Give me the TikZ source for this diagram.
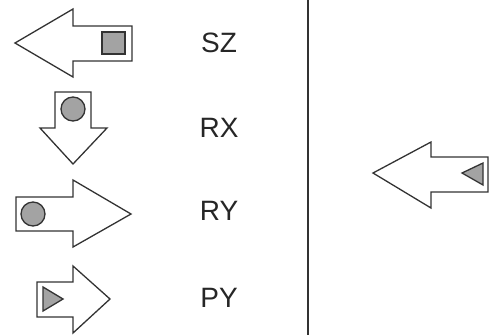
\documentclass[tikz,border=0pt]{standalone}
\usepackage{fontspec}
\setmainfont{Liberation Sans}
\usepackage{tikz}
\usetikzlibrary{positioning}
\definecolor{arrline}{HTML}{333333}
\definecolor{markgray}{HTML}{A3A3A3}

\begin{document}
\begin{tikzpicture}[
  x=1pt, y=-1pt,
  arr/.style={draw=arrline, line width=1.3pt, fill=white, line join=miter},
  sym/.style={draw=arrline, line width=1.3pt, fill=markgray},
  lbl/.style={font=\fontsize{28}{30}\selectfont, text=black!85}
]
  \useasboundingbox (0,0) rectangle (494,335);

  % SZ: arrow pointing left, square
  \draw[arr] (15,43) -- (73,9) -- (73,26) -- (132,26) -- (132,61)
    -- (73,61) -- (73,77) -- cycle;
  \draw[sym] (102,32) rectangle (125,54);
  \node[lbl] (sz) at (219,43) {SZ};

  % RX: arrow pointing down, circle
  \draw[arr] (73,164) -- (40,128) -- (55,128) -- (55,92) -- (91,92)
    -- (91,128) -- (107,128) -- cycle;
  \draw[sym] (73,109) circle (12);
  \node[lbl] (rx) at (219,128) {RX};

  % RY: arrow pointing right, circle
  \draw[arr] (131,214) -- (73,180) -- (73,197) -- (16,197) -- (16,231)
    -- (73,231) -- (73,247) -- cycle;
  \draw[sym] (33,214) circle (12);
  \node[lbl] (ry) at (219,211) {RY};

  % PY: arrow pointing right, triangle
  \draw[arr] (110,299) -- (73,266) -- (73,282) -- (37,282) -- (37,317)
    -- (73,317) -- (73,333) -- cycle;
  \draw[sym] (43,287) -- (63,299) -- (43,311) -- cycle;
  \node[lbl] (py) at (219,298) {PY};

  % divider
  \draw[arrline, line width=2pt] (308,0) -- (308,335);

  % right side: arrow pointing left, triangle
  \draw[arr] (373,173) -- (431,142) -- (431,157) -- (488,157) -- (488,192)
    -- (431,192) -- (431,208) -- cycle;
  \draw[sym] (462,173) -- (483,163) -- (483,185) -- cycle;
\end{tikzpicture}
\end{document}
